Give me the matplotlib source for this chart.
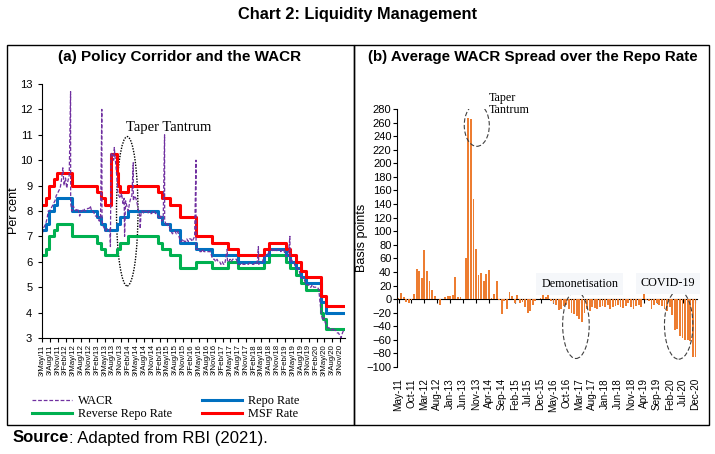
import numpy as np
import pandas as pd
import matplotlib
matplotlib.use('Agg')
import matplotlib.pyplot as plt
import matplotlib.dates as mdates
from matplotlib.patches import Ellipse, Rectangle

plt.rcParams['font.family'] = 'Liberation Sans'

# ---- panel (a): policy corridor (change dates and levels, per cent)
repo_dates = ['2011-05-03', '2011-06-16', '2011-07-26', '2011-09-16', '2011-10-25', '2012-04-17',
              '2013-01-29', '2013-03-19', '2013-05-03', '2013-09-20', '2013-10-29', '2014-01-28',
              '2015-01-15', '2015-03-04', '2015-06-02', '2015-09-29', '2016-04-05', '2016-10-04',
              '2017-08-02', '2018-06-06', '2018-08-01', '2019-02-07', '2019-04-04', '2019-06-06',
              '2019-08-07', '2019-10-04', '2020-03-27', '2020-05-22', '2020-12-31']
repo = [7.25, 7.5, 8.0, 8.25, 8.5, 8.0, 7.75, 7.5, 7.25, 7.5, 7.75, 8.0, 7.75, 7.5, 7.25, 6.75,
        6.5, 6.25, 6.0, 6.25, 6.5, 6.25, 6.0, 5.75, 5.4, 5.15, 4.4, 4.0, 4.0]

msf_dates = ['2011-05-03', '2011-06-16', '2011-07-26', '2011-09-16', '2011-10-25', '2012-04-17',
             '2013-01-29', '2013-03-19', '2013-05-03', '2013-07-15', '2013-09-20', '2013-10-07',
             '2013-10-29', '2014-01-28', '2015-01-15', '2015-03-04', '2015-06-02', '2015-09-29',
             '2016-04-05', '2016-10-04', '2017-04-06', '2017-08-02', '2018-06-06', '2018-08-01',
             '2019-02-07', '2019-04-04', '2019-06-06', '2019-08-07', '2019-10-04', '2020-03-27',
             '2020-05-22', '2020-12-31']
msf = [8.25, 8.5, 9.0, 9.25, 9.5, 9.0, 8.75, 8.5, 8.25, 10.25, 9.5, 9.0, 8.75, 9.0, 8.75, 8.5,
       8.25, 7.75, 7.0, 6.75, 6.5, 6.25, 6.5, 6.75, 6.5, 6.25, 6.0, 5.65, 5.4, 4.65, 4.25, 4.25]

rr_dates = ['2011-05-03', '2011-06-16', '2011-07-26', '2011-09-16', '2011-10-25', '2012-04-17',
            '2013-01-29', '2013-03-19', '2013-05-03', '2013-09-20', '2013-10-29', '2014-01-28',
            '2015-01-15', '2015-03-04', '2015-06-02', '2015-09-29', '2016-04-05', '2016-10-04',
            '2017-04-06', '2017-08-02', '2018-06-06', '2018-08-01', '2019-02-07', '2019-04-04',
            '2019-06-06', '2019-08-07', '2019-10-04', '2020-03-27', '2020-04-17', '2020-05-22',
            '2020-12-31']
rev_repo = [6.25, 6.5, 7.0, 7.25, 7.5, 7.0, 6.75, 6.5, 6.25, 6.5, 6.75, 7.0, 6.75, 6.5, 6.25,
            5.75, 6.0, 5.75, 6.0, 5.75, 6.0, 6.25, 6.0, 5.75, 5.5, 5.15, 4.9, 4.0, 3.75, 3.35, 3.35]

wacr_semimonthly = [
    6.9, 7.3, 7.4, 7.5, 7.7, 8.0, 8.0, 8.1, 8.2, 8.3, 8.4, 8.6, 8.7, 8.8, 8.9, 9.2,  # 2011
    9.7, 9.0, 9.3, 8.9, 9.2, 9.4, 8.3, 8.0, 8.2, 8.1, 8.0, 8.1, 8.0, 7.8, 8.0, 8.0,
    8.1, 8.0, 8.0, 8.1, 8.1, 8.2, 8.0, 8.0,  # 2012
    7.9, 7.8, 7.8, 7.7, 7.6, 7.8, 7.6, 7.4, 7.3, 7.2, 7.3, 7.3, 7.3, 10.3, 10.2, 10.0,
    10.1, 9.6, 8.8, 8.6, 8.5, 8.7, 8.3, 8.5,  # 2013
    8.4, 8.2, 8.0, 8.3, 8.5, 8.6, 8.4, 8.6, 8.5, 8.3, 8.0, 7.8, 8.0, 8.0, 7.9, 8.0,
    8.0, 7.9, 8.0, 7.9, 7.9, 8.0, 8.0, 7.9,  # 2014
    7.9, 7.8, 7.7, 7.8, 7.6, 7.7, 7.6, 7.5, 7.4, 7.5, 7.3, 7.2, 7.1, 7.2, 7.2, 7.1,
    7.2, 7.0, 6.8, 6.8, 6.9, 6.8, 6.8, 6.9,  # 2015
    6.8, 6.9, 6.9, 6.8, 6.9, 7.0, 6.5, 6.5, 6.5, 6.4, 6.4, 6.5, 6.4, 6.4, 6.4, 6.4,
    6.4, 6.4, 6.2, 6.1, 6.1, 6.0, 6.1, 6.0,  # 2016
    6.0, 5.9, 6.0, 5.9, 5.9, 6.2, 6.0, 6.0, 6.1, 6.0, 6.1, 6.1, 6.1, 6.1, 5.9, 5.9,
    5.9, 5.95, 5.9, 5.9, 5.9, 5.9, 5.9, 5.95,  # 2017
    5.95, 5.9, 5.9, 5.95, 5.9, 6.0, 5.9, 5.95, 6.0, 6.0, 6.2, 6.2, 6.3, 6.3, 6.4, 6.4,
    6.5, 6.4, 6.5, 6.4, 6.45, 6.5, 6.5, 6.4,  # 2018
    6.5, 6.5, 6.3, 6.2, 6.3, 6.4, 6.0, 6.1, 6.0, 6.0, 5.8, 5.8, 5.7, 5.7, 5.4, 5.4,
    5.3, 5.3, 5.1, 5.1, 5.1, 5.0, 5.0, 5.1,  # 2019
    5.0, 5.0, 5.0, 5.0, 4.9, 4.4, 3.9, 3.7, 3.8, 3.6, 3.5, 3.4, 3.4, 3.4, 3.3, 3.4,
    3.3, 3.3, 3.2, 3.2, 3.1, 3.0, 3.2, 3.3,  # 2020
]
# isolated spikes / dips of the daily series
spike_dates = ['2012-03-31', '2013-03-30', '2013-07-08', '2013-08-22', '2013-12-20', '2014-03-31',
               '2014-06-20', '2015-03-31', '2016-03-31', '2017-03-31', '2018-03-28', '2019-03-30']
spike_values = [12.7, 12.0, 6.6, 10.5, 7.0, 9.9, 7.3, 11.0, 10.0, 6.5, 6.6, 7.0]

# ---- panel (b): monthly average WACR spread over repo (basis points), May-11 .. Dec-20
spread = [2, 9, 3, -4, -5, -1, 7, 44, 41, 31, 73, 41, 26, 14, 5, 0, -9, 0, 3, 4,
          5, 6, 33, 3, 3, 0, 61, 267, 266, 148, 74, 35, 39, 27, 37, 43, 2, 8, 27, -2,
          -22, -3, -15, 11, 5, -5, 6, -5, -4, -12, -20, -17, -8, -3, 0, 2, 7, 3, 20, -3,
          -5, -8, -16, -14, -10, -8, -15, -20, -22, -25, -30, -33, -20, -15, -18, -12, -13, -14, -12, -10,
          -12, -8, -14, -11, -10, -9, -12, -13, -10, -5, -12, -14, -10, -8, -12, 7, -2, -3, -14, -8,
          -5, -8, -10, -14, -18, -12, -24, -45, -44, -55, -58, -60, -60, -62, -86, -85]
months = pd.date_range('2011-05-01', periods=len(spread), freq='MS')
month_labels = [m.strftime('%b-%y') for m in months]

W, H = 715, 454
fig = plt.figure(figsize=(W / 100, H / 100), dpi=100)

def fx(px):
    return px / W

def fy(py):
    return 1 - py / H

# panel frames
for x0, x1 in [(7, 354), (354, 709)]:
    fig.patches.append(Rectangle((fx(x0), fy(425)), fx(x1 - x0), (425 - 45) / H,
                                 transform=fig.transFigure, fill=False, lw=1.0, ec='black'))

fig.text(0.5, fy(14), 'Chart 2: Liquidity Management', ha='center', va='center',
         fontsize=11.8, fontweight='bold')
fig.text(fx(180), fy(57), '(a) Policy Corridor and the WACR', ha='center', va='center',
         fontsize=11, fontweight='bold')
fig.text(fx(533), fy(57), '(b) Average WACR Spread over the Repo Rate', ha='center', va='center',
         fontsize=10.9, fontweight='bold')

# ---------------- panel (a)
ax1 = fig.add_axes([fx(42), fy(338), fx(345 - 42), (338 - 84) / H])
wacr_dates = pd.date_range('2011-05-01', periods=len(wacr_semimonthly), freq='SMS')
wacr = pd.Series(wacr_semimonthly, index=wacr_dates)
wacr = pd.concat([wacr, pd.Series(spike_values, index=pd.to_datetime(spike_dates))]).sort_index()

ax1.plot(pd.to_datetime(rr_dates), rev_repo, drawstyle='steps-post', color='#00B050', lw=2.2,
         label='Reverse Repo Rate')
ax1.plot(pd.to_datetime(repo_dates), repo, drawstyle='steps-post', color='#0070C0', lw=2.2,
         label='Repo Rate')
ax1.plot(pd.to_datetime(msf_dates), msf, drawstyle='steps-post', color='#FF0000', lw=2.2,
         label='MSF Rate')
ax1.plot(wacr.index, wacr.values, color='#7030A0', lw=0.9, ls=(0, (3, 1.5)), label='WACR')

ax1.set_ylim(3, 13)
ax1.set_yticks(range(3, 14))
ax1.set_xlim(pd.Timestamp('2011-05-03'), pd.Timestamp('2020-12-31'))
qticks = pd.date_range('2011-05-01', periods=39, freq='3MS') + pd.Timedelta(days=2)
ax1.set_xticks(qticks)
ax1.set_xticklabels([f"{d.day}/{d.strftime('%b')}/{d.strftime('%y')}" for d in qticks],
                    rotation=90, fontsize=5.6)
ax1.tick_params(axis='y', labelsize=8, length=3, pad=4)
ax1.tick_params(axis='x', length=3, pad=1.5)
ax1.set_ylabel('Per cent', fontsize=9)
ax1.yaxis.set_label_coords((20 - 42) / 303, 0.5)
for s in ['top', 'right']:
    ax1.spines[s].set_visible(False)

e1 = Ellipse((mdates.date2num(pd.Timestamp('2014-01-20')), 7.99), width=250, height=5.88,
             fill=False, ls=(0, (1, 1)), lw=1.0, ec='black')
ax1.add_patch(e1)
ax1.text(pd.Timestamp('2014-01-06'), 11.3, 'Taper Tantrum', family='Liberation Serif',
         fontsize=10.5, ha='left', va='center')

h, l = ax1.get_legend_handles_labels()
order = [3, 0, 1, 2]
fig.legend([h[i] for i in order], [l[i] for i in order], ncol=2, frameon=False,
           prop={'family': 'Liberation Serif', 'size': 8.8}, handlelength=3.3,
           columnspacing=2.4, labelspacing=0.1, handletextpad=0.5,
           loc='upper left', bbox_to_anchor=(fx(21), fy(384)))

# ---------------- panel (b)
ax2 = fig.add_axes([fx(397), fy(367), fx(300), (367 - 109) / H])
x = np.arange(len(spread))
ax2.bar(x, spread, width=0.7, color='#ED7D31')
ax2.set_ylim(-100, 280)
ax2.set_yticks(range(-100, 281, 20))
ax2.set_xlim(-0.6, len(spread) - 0.4)
ax2.set_xticks(x[::5])
ax2.set_xticklabels(month_labels[::5], rotation=90, fontsize=7.2)
ax2.tick_params(axis='x', length=0, pad=8)
ax2.tick_params(axis='y', labelsize=8, length=3, pad=1)
ax2.set_ylabel('Basis points', fontsize=9)
ax2.yaxis.set_label_coords((368 - 397) / 300, 0.5)
for s in ['top', 'right', 'bottom']:
    ax2.spines[s].set_visible(False)

zero_axis = ax2.secondary_xaxis(100 / 380)
zero_axis.set_xticks(x[::5])
zero_axis.tick_params(axis='x', bottom=True, top=False, labelbottom=False, labeltop=False,
                      length=3, direction='out')

for cx, cy, w, hh in [(30.3, 256, 9.7, 62), (68.7, -38, 10.3, 99), (108.5, -38, 11, 101)]:
    ax2.add_patch(Ellipse((cx, cy), w, hh, fill=False, ls=(0, (4, 2)), lw=0.8, ec='#404040'))
ax2.text(34.8, 287, 'Taper\nTantrum', family='Liberation Serif', fontsize=8.7,
         ha='left', va='center', linespacing=1.05)
ax2.text(70.2, 22, 'Demonetisation', family='Liberation Serif', fontsize=8.7,
         ha='center', va='center',
         bbox=dict(boxstyle='square,pad=0.4', fc='#F5F7FA', ec='none'))
ax2.text(104.4, 23, 'COVID-19', family='Liberation Serif', fontsize=8.7,
         ha='center', va='center',
         bbox=dict(boxstyle='square,pad=0.4', fc='#F5F7FA', ec='none'))

# source line
t1 = fig.text(fx(13), fy(438), 'Source', fontsize=12, fontweight='bold', va='center')
fig.canvas.draw()
bb = t1.get_window_extent()
fig.text(bb.x1 / W, fy(438), ': Adapted from RBI (2021).', fontsize=12, va='center')

fig.savefig('out.png', dpi=100)
